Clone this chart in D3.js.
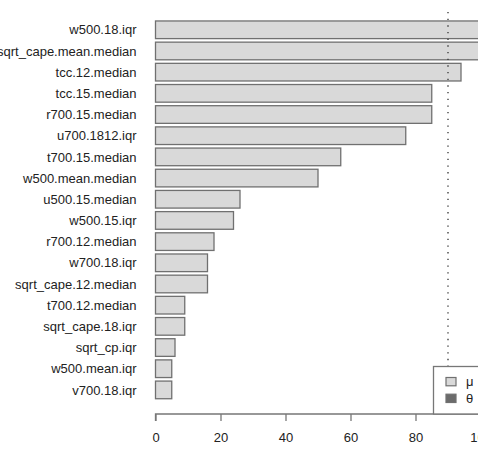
<!DOCTYPE html>
<html>
<head>
<meta charset="utf-8">
<script src="https://cdn.jsdelivr.net/npm/d3@7"></script>
<style>
  body { margin: 0; background: #fff; }
  text { font-family: "Liberation Sans", Arial, Helvetica, sans-serif; }
</style>
</head>
<body>
<svg width="478" height="462"></svg>
<script>
var labels = ["w500.18.iqr", "sqrt_cape.mean.median", "tcc.12.median", "tcc.15.median",
  "r700.15.median", "u700.1812.iqr", "t700.15.median", "w500.mean.median",
  "u500.15.median", "w500.15.iqr", "r700.12.median", "w700.18.iqr",
  "sqrt_cape.12.median", "t700.12.median", "sqrt_cape.18.iqr", "sqrt_cp.iqr",
  "w500.mean.iqr", "v700.18.iqr"];
var values = [100, 100, 94, 85, 85, 77, 57, 50, 26, 24, 18, 16, 16, 9, 9, 6, 5, 5];
var xTicks = [0, 20, 40, 60, 80, 100];
var cutoff = 90;
var legendLabels = ["\u03bc", "\u03b8"];
var legendColors = ["#d9d9d9", "#6b6b6b"];

var svg = d3.select("svg");

var x = d3.scaleLinear().domain([0, 100]).range([155.5, 480.5]);
var y = d3.scaleBand().domain(labels).range([19.2, 400.5])
  .paddingInner(0.1667).paddingOuter(0.0833);

// bars
svg.append("g")
  .selectAll("rect")
  .data(values)
  .enter()
  .append("rect")
  .attr("x", x(0))
  .attr("y", function(d, i) { return y(labels[i]); })
  .attr("width", function(d) { return x(d) - x(0); })
  .attr("height", y.bandwidth())
  .attr("fill", "#d9d9d9")
  .attr("stroke", "#707070")
  .attr("stroke-width", 1.3);

// category labels
svg.append("g")
  .selectAll("text")
  .data(labels)
  .enter()
  .append("text")
  .attr("x", 136.5)
  .attr("y", function(d) { return y(d) + y.bandwidth() / 2; })
  .attr("dy", "0.36em")
  .attr("text-anchor", "end")
  .attr("font-size", 13)
  .attr("fill", "#222")
  .text(function(d) { return d; });

// cutoff line
svg.append("line")
  .attr("x1", x(cutoff)).attr("x2", x(cutoff))
  .attr("y1", 12).attr("y2", 414)
  .attr("stroke", "#333")
  .attr("stroke-width", 1.3)
  .attr("stroke-dasharray", "1.3,5.37");

// x axis
var axis = d3.axisBottom(x).tickValues(xTicks).tickSize(7).tickPadding(11.5)
  .tickFormat(d3.format("d"));
var gx = svg.append("g").attr("transform", "translate(0,414)").call(axis);
gx.select(".domain").attr("stroke", "#777").attr("stroke-width", 1.3)
  .attr("d", "M" + x(0) + ",7V0H" + x(100) + "V7");
gx.selectAll(".tick line").attr("stroke", "#777").attr("stroke-width", 1.3);
gx.selectAll(".tick text").attr("font-size", 13).attr("fill", "#222")
  .attr("font-family", "Liberation Sans, Arial, sans-serif");

// legend
var lg = svg.append("g");
lg.append("rect")
  .attr("x", 433.5).attr("y", 366.5)
  .attr("width", 60).attr("height", 47.5)
  .attr("fill", "#fff")
  .attr("stroke", "#777")
  .attr("stroke-width", 1.3);
var items = lg.selectAll(".item")
  .data(legendLabels)
  .enter()
  .append("g")
  .attr("transform", function(d, i) { return "translate(446," + (377.5 + i * 16.7) + ")"; });
items.append("rect")
  .attr("width", 10).attr("height", 8.3)
  .attr("fill", function(d, i) { return legendColors[i]; })
  .attr("stroke", "#707070")
  .attr("stroke-width", 1.2);
items.append("text")
  .attr("x", 20).attr("y", 4.2).attr("dy", "0.36em")
  .attr("font-size", 13).attr("fill", "#222")
  .text(function(d) { return d; });
</script>
</body>
</html>
